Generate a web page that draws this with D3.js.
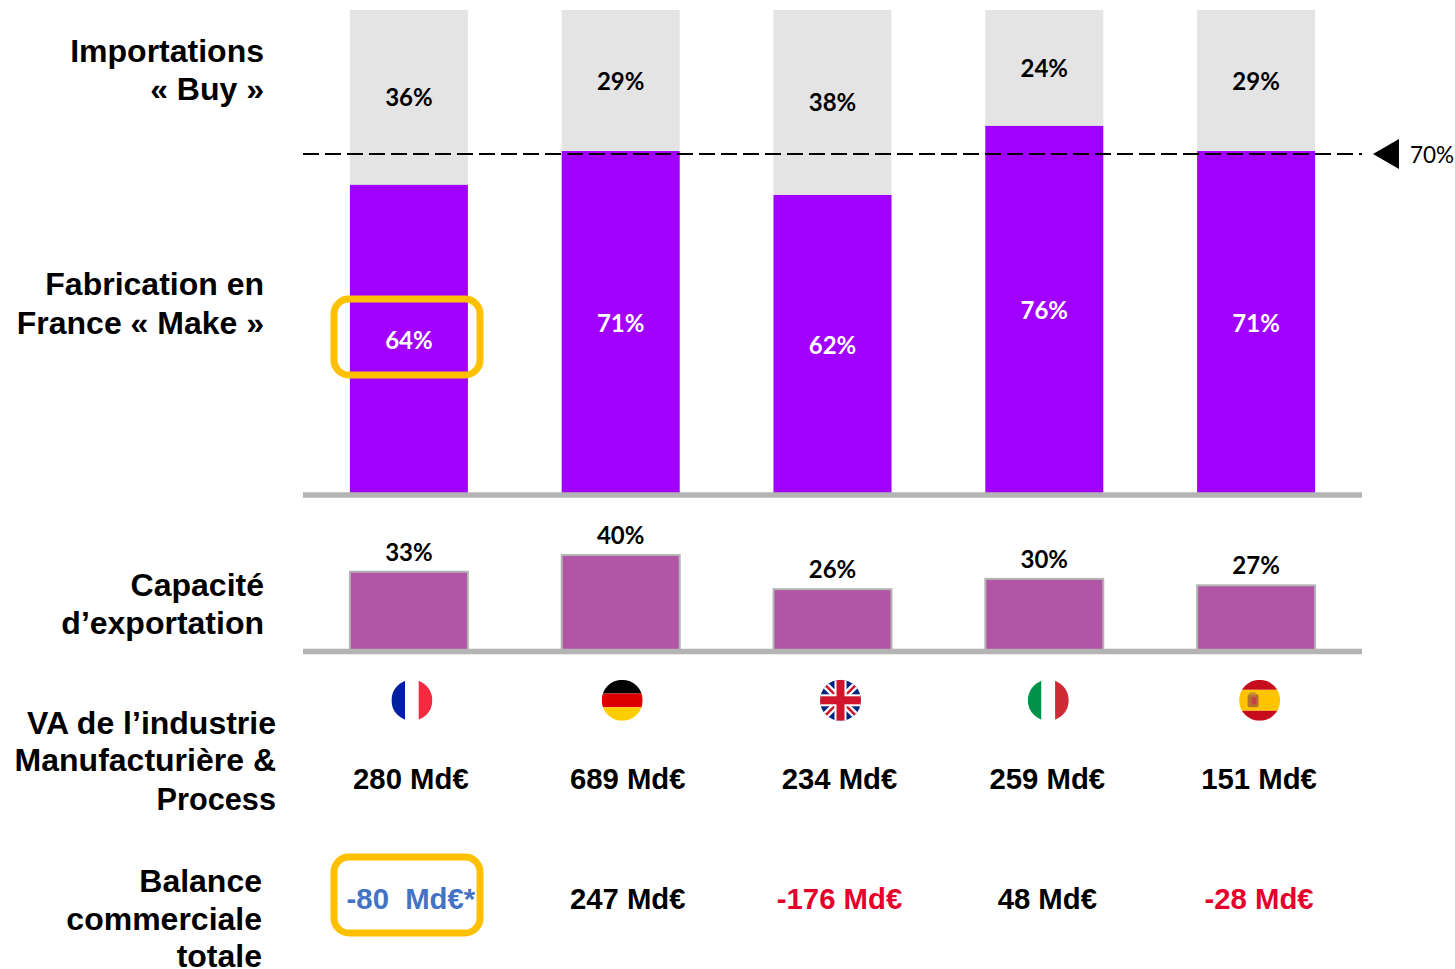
<!DOCTYPE html>
<html>
<head>
<meta charset="utf-8">
<script src="https://cdn.jsdelivr.net/npm/d3@7"></script>
<style>
    html, body { margin: 0; padding: 0; background: #fff; }
    svg { display: block; }
    .side { font: bold 32px "Liberation Sans", Arial, sans-serif; fill: #000; text-anchor: end; }
    .pct { font: bold 24px Lato, sans-serif; text-anchor: middle; }
    .amount { font: bold 29.3px "Liberation Sans", Arial, sans-serif; text-anchor: middle; white-space: pre; }
</style>
</head>
<body>
<svg id="chart" width="1455" height="969"></svg>
<script>
// Values (bar heights carry a decimal, labels show it rounded)
var countries = ["France", "Allemagne", "Royaume-Uni", "Italie", "Espagne"];
var makeValues = [63.8, 70.8, 61.7, 76, 70.8];
var buyValues = [36, 29, 38, 24, 29];
var exportValues = [33, 40, 25.7, 30, 27.3];
var vaValues = [280, 689, 234, 259, 151];
var balanceValues = [-80, 247, -176, 48, -28];
var threshold = 70;

var svg = d3.select("#chart");

var x = d3.scaleBand().domain(countries).range([303, 1362]).paddingInner(0.443).paddingOuter(0.2215);
var yShare = d3.scaleLinear().domain([0, 100]).range([493, 10]);
var yExport = d3.scaleLinear().domain([0, 40]).range([650.5, 555]);
var pct = d3.format(".0f");

var center = function(d) { return x(d) + x.bandwidth() / 2; };

// Row texts sit a little off the bar centres in the original slide
var flagShift = [3, 1.5, 8, 4, 3.5];
var amountShift = [2, 7, 7, 3, 3];

// Buy: grey column behind, Make: purple on top
svg.selectAll(".buy").data(countries).enter().append("rect")
    .attr("x", function(d) { return x(d); })
    .attr("y", yShare(100))
    .attr("width", x.bandwidth())
    .attr("height", yShare(0) - yShare(100))
    .attr("fill", "#e4e4e4");

svg.selectAll(".make").data(countries).enter().append("rect")
    .attr("x", function(d) { return x(d); })
    .attr("y", function(d, i) { return yShare(makeValues[i]); })
    .attr("width", x.bandwidth())
    .attr("height", function(d, i) { return yShare(0) - yShare(makeValues[i]); })
    .attr("fill", "#a100ff");

svg.selectAll(".buyLabel").data(countries).enter().append("text")
    .attr("class", "pct")
    .attr("x", center)
    .attr("y", function(d, i) { return (yShare(100) + yShare(makeValues[i])) / 2 + 9; })
    .attr("fill", "#000")
    .text(function(d, i) { return buyValues[i] + "%"; });

svg.selectAll(".makeLabel").data(countries).enter().append("text")
    .attr("class", "pct")
    .attr("x", center)
    .attr("y", function(d, i) { return (yShare(0) + yShare(makeValues[i])) / 2 + 10; })
    .attr("fill", "#fff")
    .text(function(d, i) { return pct(makeValues[i]) + "%"; });

// 70% reference line
var yRef = yShare(threshold) - 1;
svg.append("line")
    .attr("x1", 303).attr("x2", 1362)
    .attr("y1", yRef).attr("y2", yRef)
    .attr("stroke", "#000")
    .attr("stroke-width", 2)
    .attr("stroke-dasharray", "16 6");
svg.append("path")
    .attr("d", "M1373," + yRef + "L1399," + (yRef - 15) + "V" + (yRef + 15) + "Z")
    .attr("fill", "#000");
svg.append("text")
    .attr("x", 1410).attr("y", yRef + 9)
    .attr("font-family", "Lato, sans-serif")
    .attr("font-size", 22.5)
    .text(threshold + "%");

// Export bars
svg.selectAll(".export").data(countries).enter().append("rect")
    .attr("x", function(d) { return x(d); })
    .attr("y", function(d, i) { return yExport(exportValues[i]); })
    .attr("width", x.bandwidth())
    .attr("height", function(d, i) { return yExport(0) - yExport(exportValues[i]); })
    .attr("fill", "#b155a5")
    .attr("stroke", "#b4b4b4")
    .attr("stroke-width", 2);

svg.selectAll(".exportLabel").data(countries).enter().append("text")
    .attr("class", "pct")
    .attr("x", center)
    .attr("y", function(d, i) { return yExport(exportValues[i]) - 11; })
    .attr("fill", "#000")
    .text(function(d, i) { return pct(exportValues[i]) + "%"; });

// Grey base lines
[495, 651.5].forEach(function(y) {
    svg.append("line")
        .attr("x1", 303).attr("x2", 1362)
        .attr("y1", y).attr("y2", y)
        .attr("stroke", "#b4b4b4")
        .attr("stroke-width", 5.5);
});

// Row titles, right aligned
var sideLabels = [
    { lines: ["Importations", "« Buy »"], right: 264, y: [62, 100] },
    { lines: ["Fabrication en", "France « Make »"], right: 264, y: [295, 334] },
    { lines: ["Capacité", "d’exportation"], right: 264, y: [596, 634] },
    { lines: ["VA de l’industrie", "Manufacturière &", "Process"], right: 276, y: [734, 771, 810], small: 2 },
    { lines: ["Balance", "commerciale", "totale"], right: 262, y: [892, 930, 967] }
];
sideLabels.forEach(function(block) {
    block.lines.forEach(function(line, i) {
        svg.append("text")
            .attr("class", "side")
            .attr("x", block.right)
            .attr("y", block.y[i])
            .style("font-size", block.small === i ? "30.7px" : null)
            .text(line);
    });
});

// Flags, clipped to a circle
var flagR = 20.5;
var flagY = 700.3;
var defs = svg.append("defs");
defs.append("clipPath").attr("id", "flagClip")
    .append("circle").attr("r", flagR);

var flags = svg.selectAll(".flag").data(countries).enter().append("g")
    .attr("transform", function(d, i) { return "translate(" + (center(d) + flagShift[i]) + "," + flagY + ")"; })
    .append("g")
    .attr("clip-path", "url(#flagClip)");

function stripes(g, colors, vertical, cuts) {
    colors.forEach(function(c, i) {
        var a = cuts[i], b = cuts[i + 1];
        g.append("rect")
            .attr("x", vertical ? a : -flagR)
            .attr("y", vertical ? -flagR : a)
            .attr("width", vertical ? b - a : flagR * 2)
            .attr("height", vertical ? flagR * 2 : b - a)
            .attr("fill", c);
    });
}

flags.each(function(d) {
    var g = d3.select(this);
    var r = flagR;
    if (d === "France") {
        stripes(g, ["#00209f", "#fff", "#f42a41"], true, [-r, -6.8, 6.8, r]);
    } else if (d === "Allemagne") {
        stripes(g, ["#000", "#dd0000", "#ffce00"], false, [-r, -6.8, 7, r]);
    } else if (d === "Italie") {
        stripes(g, ["#009246", "#fff", "#ce2b37"], true, [-r, -6.8, 6.8, r]);
    } else if (d === "Espagne") {
        stripes(g, ["#c60b1e", "#ffc400", "#c60b1e"], false, [-r, -10.5, 10.5, r]);
        // small coat of arms, left of centre
        g.append("rect").attr("x", -12).attr("y", -6).attr("width", 11).attr("height", 13).attr("rx", 2).attr("fill", "#b5742c");
        g.append("rect").attr("x", -8).attr("y", -3).attr("width", 5).attr("height", 7).attr("fill", "#c8404a");
        g.append("rect").attr("x", -10).attr("y", -8).attr("width", 6).attr("height", 3).attr("fill", "#c09030");
    } else {
        // Union Jack
        g.append("rect").attr("x", -r).attr("y", -r).attr("width", r * 2).attr("height", r * 2).attr("fill", "#00247d");
        [[-r, -r, r, r], [-r, r, r, -r]].forEach(function(p) {
            g.append("line").attr("x1", p[0]).attr("y1", p[1]).attr("x2", p[2]).attr("y2", p[3])
                .attr("stroke", "#fff").attr("stroke-width", 7);
            g.append("line").attr("x1", p[0]).attr("y1", p[1]).attr("x2", p[2]).attr("y2", p[3])
                .attr("stroke", "#cf142b").attr("stroke-width", 2.5);
        });
        g.append("rect").attr("x", -r).attr("y", -6).attr("width", r * 2).attr("height", 12).attr("fill", "#fff");
        g.append("rect").attr("x", -6).attr("y", -r).attr("width", 12).attr("height", r * 2).attr("fill", "#fff");
        g.append("rect").attr("x", -r).attr("y", -4).attr("width", r * 2).attr("height", 8).attr("fill", "#cf142b");
        g.append("rect").attr("x", -4).attr("y", -r).attr("width", 8).attr("height", r * 2).attr("fill", "#cf142b");
    }
});

// Amount rows
svg.selectAll(".va").data(countries).enter().append("text")
    .attr("class", "amount")
    .attr("x", function(d, i) { return center(d) + amountShift[i]; })
    .attr("y", 789)
    .attr("fill", "#000")
    .text(function(d, i) { return vaValues[i] + " Md€"; });

svg.selectAll(".balance").data(countries).enter().append("text")
    .attr("class", "amount")
    .attr("x", function(d, i) { return center(d) + amountShift[i]; })
    .attr("y", 909)
    .attr("fill", function(d, i) {
        if (i === 0) return "#4472c4";
        return balanceValues[i] < 0 ? "#e4002b" : "#000";
    })
    .text(function(d, i) { return i === 0 ? balanceValues[i] + "  Md€*" : balanceValues[i] + " Md€"; });

// Highlight boxes around France
[[299, 76], [857, 76]].forEach(function(b) {
    svg.append("rect")
        .attr("x", 334).attr("y", b[0])
        .attr("width", 146).attr("height", b[1])
        .attr("rx", 15)
        .attr("fill", "none")
        .attr("stroke", "#ffc000")
        .attr("stroke-width", 7);
});
</script>
</body>
</html>
